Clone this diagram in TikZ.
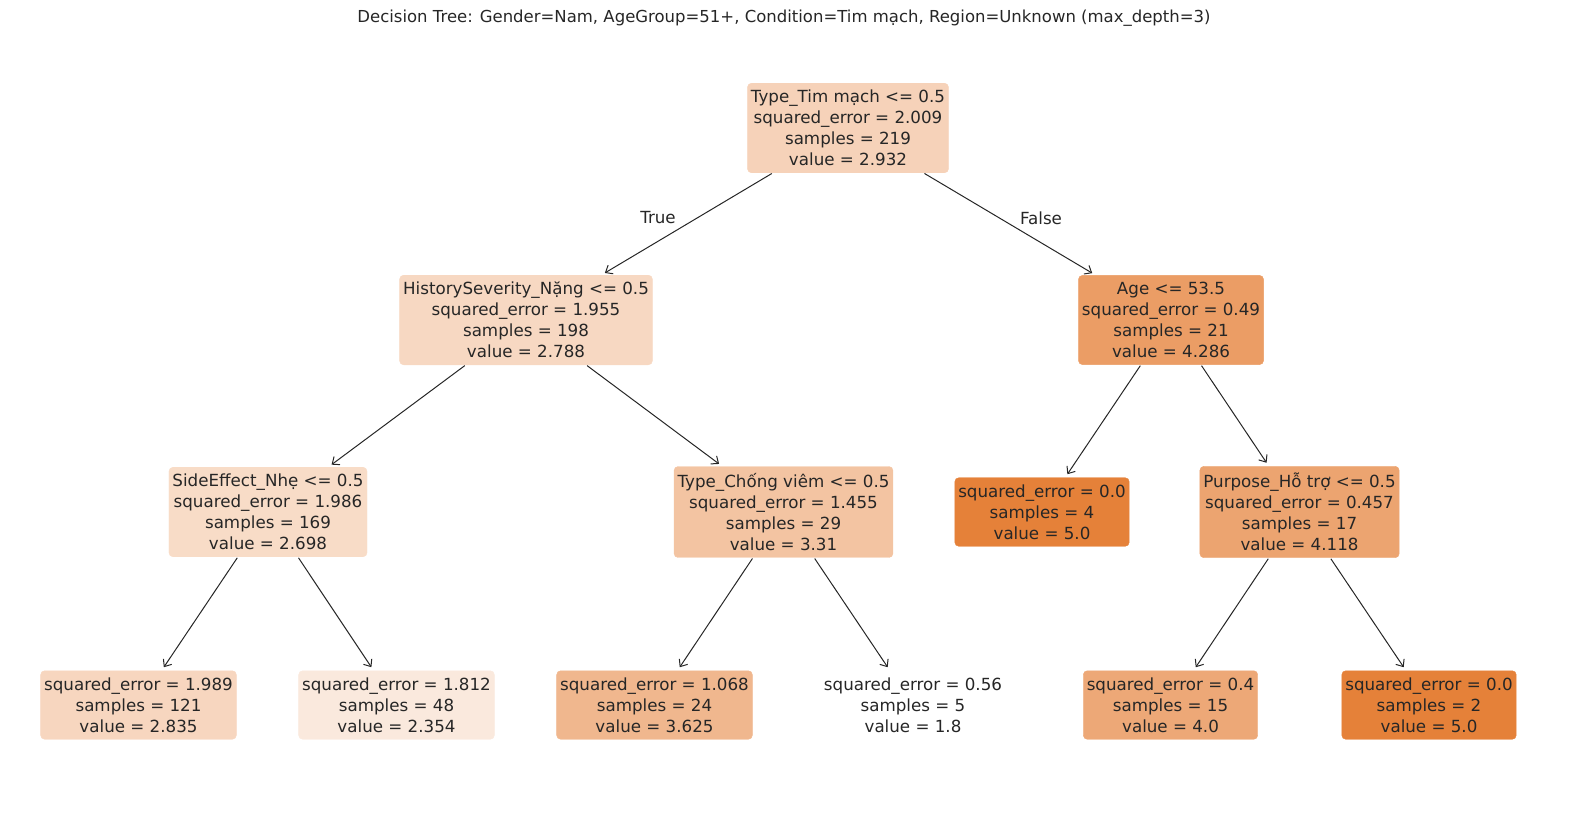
\documentclass[tikz,border=0pt]{standalone}
\usepackage{fontspec}
\setmainfont{DejaVu Sans}
\usetikzlibrary{arrows.meta}
\definecolor{ink}{RGB}{38,38,38}
% fill shades scale with the node value (1.8 = white, 5.0 = full orange)
\definecolor{vA}{RGB}{246,210,185}
\definecolor{vB}{RGB}{247,216,194}
\definecolor{vC}{RGB}{235,157,101}
\definecolor{vD}{RGB}{248,220,199}
\definecolor{vE}{RGB}{243,196,162}
\definecolor{vF}{RGB}{229,129,57}
\definecolor{vG}{RGB}{236,164,112}
\definecolor{vH}{RGB}{247,214,191}
\definecolor{vI}{RGB}{250,233,221}
\definecolor{vJ}{RGB}{240,183,142}
\definecolor{vK}{RGB}{237,168,119}
\begin{document}
\begin{tikzpicture}[x=1pt,y=-1pt,
  every node/.style={font=\fontsize{16.7}{21}\selectfont, text=ink},
  tnode/.style={align=center, rounded corners=4pt, inner xsep=3.5pt, inner ysep=6.8pt},
  filled/.style={tnode, fill=#1, draw=#1},
  arr/.style={draw=ink, line width=1pt, -{Straight Barb[length=6pt,width=10pt]}, shorten >=4pt, shorten <=1pt}
]
\useasboundingbox (0,0) rectangle (1570,812);

\node[font=\fontsize{16.5}{20}\selectfont] (title) at (784,18) {Decision Tree: Gender=Nam, AgeGroup=51+, Condition=Tim mạch, Region=Unknown (max\_depth=3)};

% depth 0
\node[filled=vA] (n0) at (848,128) {Type\_Tim mạch <= 0.5\\squared\_error = 2.009\\samples = 219\\value = 2.932};

% depth 1
\node[filled=vB] (n1) at (526,320) {HistorySeverity\_Nặng <= 0.5\\squared\_error = 1.955\\samples = 198\\value = 2.788};
\node[filled=vC] (n8) at (1171,320) {Age <= 53.5\\squared\_error = 0.49\\samples = 21\\value = 4.286};

% depth 2
\node[filled=vD] (n2) at (268,512) {SideEffect\_Nhẹ <= 0.5\\squared\_error = 1.986\\samples = 169\\value = 2.698};
\node[filled=vE] (n5) at (783.5,512) {Type\_Chống viêm <= 0.5\\squared\_error = 1.455\\samples = 29\\value = 3.31};
\node[filled=vF] (n9) at (1042,512) {squared\_error = 0.0\\samples = 4\\value = 5.0};
\node[filled=vG] (n10) at (1299.5,512) {Purpose\_Hỗ trợ <= 0.5\\squared\_error = 0.457\\samples = 17\\value = 4.118};

% depth 3 (leaves)
\node[filled=vH] (n3) at (138.5,705) {squared\_error = 1.989\\samples = 121\\value = 2.835};
\node[filled=vI] (n4) at (396.5,705) {squared\_error = 1.812\\samples = 48\\value = 2.354};
\node[filled=vJ] (n6) at (654.5,705) {squared\_error = 1.068\\samples = 24\\value = 3.625};
\node[tnode] (n7) at (913,705) {squared\_error = 0.56\\samples = 5\\value = 1.8};
\node[filled=vK] (n11) at (1170.5,705) {squared\_error = 0.4\\samples = 15\\value = 4.0};
\node[filled=vF] (n12) at (1429,705) {squared\_error = 0.0\\samples = 2\\value = 5.0};

% branch labels
\node (tlab) at (658,218) {True};
\node (flab) at (1041,218) {False};

% connectors
\draw[arr] (n0) -- (n1);
\draw[arr] (n0) -- (n8);
\draw[arr] (n1) -- (n2);
\draw[arr] (n1) -- (n5);
\draw[arr] (n8) -- (n9);
\draw[arr] (n8) -- (n10);
\draw[arr] (n2) -- (n3);
\draw[arr] (n2) -- (n4);
\draw[arr] (n5) -- (n6);
\draw[arr] (n5) -- (n7);
\draw[arr] (n10) -- (n11);
\draw[arr] (n10) -- (n12);
\end{tikzpicture}
\end{document}
